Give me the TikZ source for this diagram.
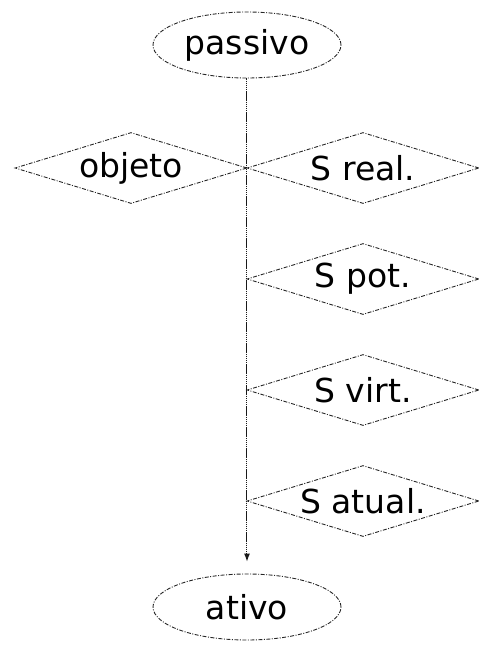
\documentclass[tikz,border=0pt]{standalone}
\usepackage{fontspec}
\setmainfont{DejaVu Sans}
\usetikzlibrary{arrows.meta,shapes}

\begin{document}
\begin{tikzpicture}[x=1pt,y=1pt,
      nodes={font=\fontsize{33}{40}\selectfont, inner sep=0pt},
      edge/.style={draw=black!85, line width=0.9pt, dash pattern=on 4pt off 1.5pt on 1pt off 1.5pt},
      ell/.style={ellipse, edge, minimum width=188pt, minimum height=66pt},
      dia/.style={diamond, edge, shape aspect=3.2, minimum width=232pt, minimum height=71pt}]
    \useasboundingbox (-247,45) rectangle (234,-600);
    \node[ell](passivo){passivo};
    \node[ell,below of=passivo,node distance=562pt](ativo){ativo};

    \node[dia] at (-116,-123) (objeto){objeto};
    \node[dia,right of=objeto,node distance=232pt](sreal){S real.};
    \node[dia,below of=sreal,node distance=111pt](spot){S pot.};
    \node[dia,below of=spot,node distance=111pt](svirt){S virt.};
    \node[dia,below of=svirt,node distance=111pt](satual){S atual.};

    \draw[-{Latex[length=8pt,width=6pt]},black!90,line width=1pt,dash pattern=on 1.5pt off 0.6pt,shorten >=12pt] (passivo) -- (ativo);
\end{tikzpicture}
\end{document}
